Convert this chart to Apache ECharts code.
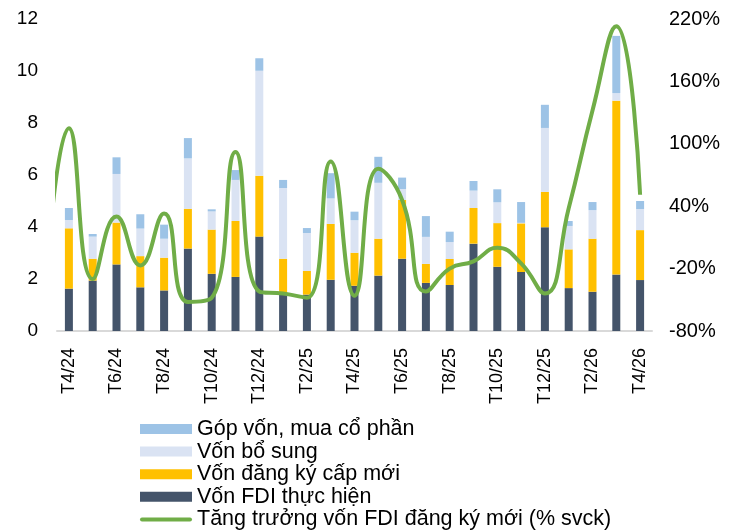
<!DOCTYPE html>
<html>
<head>
<meta charset="utf-8">
<script src="https://cdn.jsdelivr.net/npm/echarts@6/dist/echarts.min.js"></script>
<style>
  html, body { margin: 0; padding: 0; background: #fff; }
  #main { width: 740px; height: 530px; }
</style>
</head>
<body>
<div id="main"></div>
<script>
// thang T4/24 -> T4/26
var categories = ['T4/24', 'T5/24', 'T6/24', 'T7/24', 'T8/24', 'T9/24', 'T10/24', 'T11/24', 'T12/24',
  'T1/25', 'T2/25', 'T3/25', 'T4/25', 'T5/25', 'T6/25', 'T7/25', 'T8/25', 'T9/25', 'T10/25', 'T11/25', 'T12/25',
  'T1/26', 'T2/26', 'T3/26', 'T4/26'];

// ty USD
var fdiThucHien = [1.63, 1.94, 2.56, 1.68, 1.56, 3.17, 2.20, 2.08, 3.63, 1.45, 1.40, 1.97, 1.74, 2.13, 2.78, 1.85, 1.77, 3.36, 2.47, 2.27, 3.99, 1.65, 1.51, 2.17, 1.96];
var capMoi = [2.32, 0.84, 1.61, 1.20, 1.26, 1.53, 1.70, 2.15, 2.34, 1.33, 0.91, 2.15, 1.27, 1.42, 2.26, 0.73, 1.00, 1.37, 1.68, 1.87, 1.36, 1.49, 2.04, 6.69, 1.92];
var boSung = [0.32, 0.85, 1.87, 1.06, 0.73, 1.94, 0.70, 1.58, 4.04, 2.72, 1.46, 0.98, 1.25, 2.15, 0.42, 1.04, 0.65, 0.67, 0.80, 0.02, 2.46, 0.90, 1.10, 0.29, 0.81];
var gopVon = [0.46, 0.10, 0.64, 0.55, 0.54, 0.78, 0.08, 0.38, 0.48, 0.31, 0.19, 0.97, 0.33, 1.00, 0.44, 0.80, 0.40, 0.37, 0.50, 0.80, 0.89, 0.19, 0.31, 2.20, 0.31];

// % svck, bat dau tu T3/24 (nam ngoai khung, bi cat)
var growthStart = -1;
var growth = [-40, 115, -30, 30, -17, 33, -52, -48, 92, -42, -44, -48, 83, -46, 76, 46, -42, -20, -13, 0, -15, -44, 38, 132, 213, 51];

var growthData = growth.map(function (v, i) { return [growthStart + i, v]; });

var FONT = '"Liberation Sans", Arial, sans-serif';

var chart = echarts.init(document.getElementById('main'), null, { renderer: 'canvas' });

chart.setOption({
  animation: false,
  textStyle: { fontFamily: FONT },
  grid: { left: 57, right: 88, top: 19, bottom: 199, containLabel: false },
  legend: {
    orient: 'vertical',
    left: 140,
    top: 418,
    height: 120,
    padding: 0,
    itemWidth: 52,
    itemHeight: 10,
    itemGap: 0.6,
    textStyle: { fontSize: 21.5, color: '#000', fontFamily: FONT, lineHeight: 22 },
    data: [
      { name: 'Góp vốn, mua cổ phần', icon: 'rect' },
      { name: 'Vốn bổ sung', icon: 'rect' },
      { name: 'Vốn đăng ký cấp mới', icon: 'rect' },
      { name: 'Vốn FDI thực hiện', icon: 'rect' },
      { name: 'Tăng trưởng vốn FDI đăng ký mới (% svck)', icon: 'path://M2,0 L50,0 A2,2 0 0 1 50,4 L2,4 A2,2 0 0 1 2,0 Z' }
    ]
  },
  xAxis: [{
    type: 'category',
    data: categories,
    axisLine: { lineStyle: { color: '#D9D9D9', width: 2 } },
    axisTick: { show: false },
    axisLabel: { interval: 1, rotate: 90, fontSize: 18, color: '#000', margin: 17, fontFamily: FONT }
  }, {
    type: 'value',
    min: -0.5,
    max: 24.5,
    show: false
  }],
  yAxis: [{
    type: 'value',
    min: 0,
    max: 12,
    interval: 2,
    axisLine: { show: false },
    axisTick: { show: false },
    splitLine: { show: false },
    axisLabel: { fontSize: 19, color: '#000', margin: 19, fontFamily: FONT }
  }, {
    type: 'value',
    min: -80,
    max: 220,
    interval: 60,
    axisLine: { show: false },
    axisTick: { show: false },
    splitLine: { show: false },
    axisLabel: { fontSize: 20, color: '#000', margin: 17, formatter: '{value}%', fontFamily: FONT }
  }],
  series: [{
    name: 'Vốn FDI thực hiện',
    type: 'bar',
    stack: 'von',
    barWidth: 8,
    itemStyle: { color: '#44546A' },
    data: fdiThucHien
  }, {
    name: 'Vốn đăng ký cấp mới',
    type: 'bar',
    stack: 'von',
    barWidth: 8,
    itemStyle: { color: '#FFC000' },
    data: capMoi
  }, {
    name: 'Vốn bổ sung',
    type: 'bar',
    stack: 'von',
    barWidth: 8,
    itemStyle: { color: '#DAE3F3' },
    data: boSung
  }, {
    name: 'Góp vốn, mua cổ phần',
    type: 'bar',
    stack: 'von',
    barWidth: 8,
    itemStyle: { color: '#9DC3E6' },
    data: gopVon
  }, {
    name: 'Tăng trưởng vốn FDI đăng ký mới (% svck)',
    type: 'line',
    xAxisIndex: 1,
    yAxisIndex: 1,
    smooth: 0.5,
    showSymbol: false,
    clip: true,
    itemStyle: { color: '#70AD47' },
    lineStyle: { color: '#70AD47', width: 4 },
    data: growthData
  }]
});
</script>
</body>
</html>
